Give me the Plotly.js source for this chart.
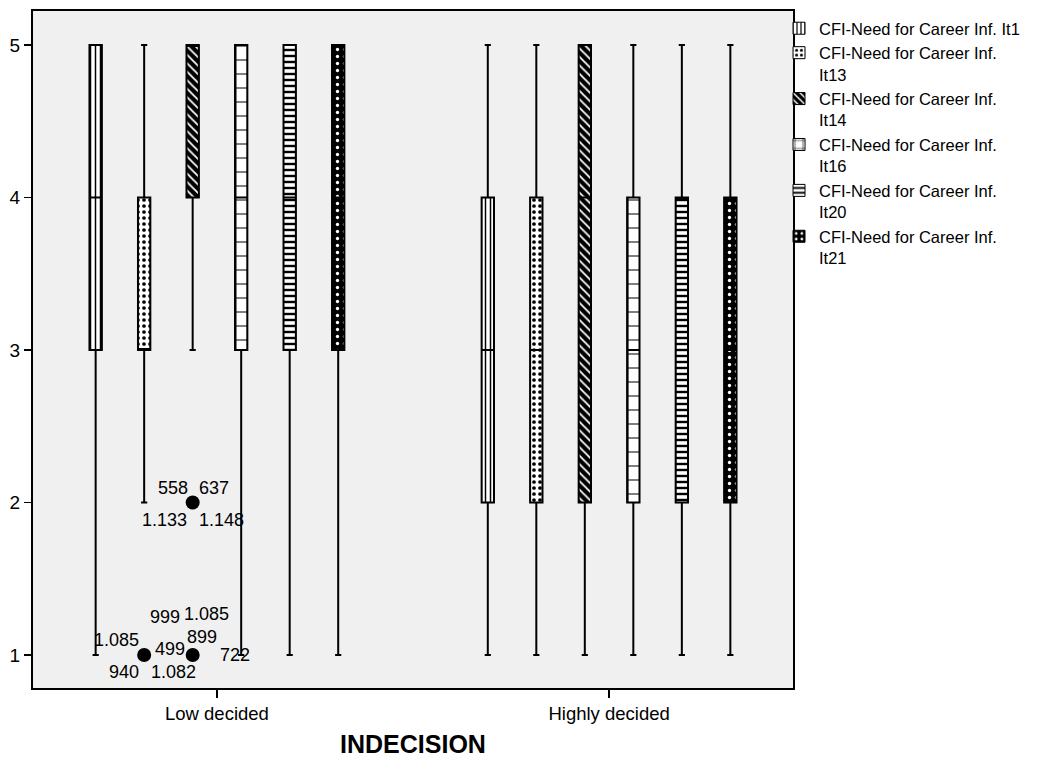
<!DOCTYPE html>
<html>
<head>
<meta charset="utf-8">
<script src="https://cdn.plot.ly/plotly-3.0.1.min.js"></script>
<style>
  html, body { margin: 0; padding: 0; background: #ffffff; }
  #chart { width: 1045px; height: 761px; }
</style>
</head>
<body>
<div id="chart"></div>
<script>
// Groups on the category axis
const groups = ['Low decided', 'Highly decided'];

// Item names (one box per item within each group)
const items = [
  'CFI-Need for Career Inf. It1',
  'CFI-Need for Career Inf.<br>It13',
  'CFI-Need for Career Inf.<br>It14',
  'CFI-Need for Career Inf.<br>It16',
  'CFI-Need for Career Inf.<br>It20',
  'CFI-Need for Career Inf.<br>It21'
];

// Box-plot statistics per item: [Low decided, Highly decided]
const lowerWhisker = [[1, 1], [2, 1], [3, 1], [1, 1], [1, 1], [1, 1]];
const q1           = [[3, 2], [3, 2], [4, 2], [3, 2], [3, 2], [3, 2]];
const median       = [[4, 3], [3, 3], [5, 4], [4, 3], [4, 4], [4, 3]];
const q3           = [[5, 4], [4, 4], [5, 5], [5, 4], [5, 4], [5, 4]];
const upperWhisker = [[5, 5], [5, 5], [5, 5], [5, 5], [5, 5], [5, 5]];

// Outlying cases: item index, group index, value, case labels
const outlierItem  = [1, 2, 2];
const outlierGroup = [0, 0, 0];
const outlierValue = [1, 2, 1];
const outlierCases = [
  ['1.085', '940'],
  ['558', '637', '1.133', '1.148'],
  ['999', '1.085', '899', '499', '1.082', '722']
];

// ---- styling -------------------------------------------------------------
const FONT = 'Liberation Sans, Arial, Helvetica, sans-serif';
const slot = 0.1237;      // spacing of boxes inside a group (axis units)
const boxWidth = 0.0315;  // box width (axis units)

// Fill patterns for each item
const patterns = [
  { shape: '|',  bgcolor: '#ffffff', fgcolor: '#000000', size: 5,  solidity: 0.3 },
  { shape: '.',  bgcolor: '#ffffff', fgcolor: '#000000', size: 6,  solidity: 0.3 },
  { shape: '\\', bgcolor: '#000000', fgcolor: '#ffffff', size: 6,  solidity: 0.3 },
  { shape: '+',  bgcolor: '#ffffff', fgcolor: '#000000', size: 14, solidity: 0.14 },
  { shape: '-',  bgcolor: '#ffffff', fgcolor: '#000000', size: 6,  solidity: 0.4 },
  { shape: '.',  bgcolor: '#000000', fgcolor: '#ffffff', size: 7,  solidity: 0.18 }
];

// Label placement around each outlier dot (pixel shifts: dx, dy up)
const labelShifts = [
  [[-28, 15], [-20, -17]],
  [[-20, 15], [21, 15], [-28, -17], [29, -17]],
  [[-28, 38], [14, 41], [9, 18], [-23, 6], [-19, -17], [42, 0]]
];

const offsetOf = i => (i - (items.length - 1) / 2) * slot;
const posOf = (i, g) => g + offsetOf(i);

const traces = [];

// Patterned box bodies (also provide the legend swatches)
items.forEach((name, i) => {
  traces.push({
    type: 'bar',
    name: name,
    x: groups.map((_, g) => posOf(i, g)),
    base: q1[i],
    y: q3[i].map((v, g) => v - q1[i][g]),
    width: boxWidth,
    marker: {
      color: patterns[i].bgcolor,
      line: { color: '#000000', width: 1 },
      pattern: {
        shape: patterns[i].shape,
        bgcolor: patterns[i].bgcolor,
        fgcolor: patterns[i].fgcolor,
        size: patterns[i].size,
        solidity: patterns[i].solidity
      }
    },
    hoverinfo: 'skip',
    showlegend: true
  });
});

// Box outlines, medians and whiskers
items.forEach((name, i) => {
  traces.push({
    type: 'box',
    name: name,
    x: groups.map((_, g) => posOf(i, g)),
    q1: q1[i],
    median: median[i],
    q3: q3[i],
    lowerfence: lowerWhisker[i],
    upperfence: upperWhisker[i],
    width: boxWidth,
    whiskerwidth: 0.5,
    boxpoints: false,
    fillcolor: 'rgba(0,0,0,0)',
    line: { color: '#000000', width: 2 },
    hoverinfo: 'skip',
    showlegend: false
  });
});

// Outlier dots
traces.push({
  type: 'scatter',
  mode: 'markers',
  x: outlierItem.map((it, k) => posOf(it, outlierGroup[k])),
  y: outlierValue,
  marker: { color: '#000000', size: 14, symbol: 'circle' },
  hoverinfo: 'skip',
  showlegend: false
});

// Case labels next to the outliers
const annotations = [];
outlierCases.forEach((labels, k) => {
  labels.forEach((txt, j) => {
    annotations.push({
      xref: 'x', yref: 'y',
      x: posOf(outlierItem[k], outlierGroup[k]),
      y: outlierValue[k],
      text: txt,
      showarrow: false,
      xshift: labelShifts[k][j][0],
      yshift: labelShifts[k][j][1],
      font: { family: FONT, size: 18, color: '#000000' }
    });
  });
});

const layout = {
  width: 1045,
  height: 761,
  margin: { l: 33, r: 252, t: 11, b: 73, pad: 0 },
  paper_bgcolor: '#ffffff',
  plot_bgcolor: '#f0f0f0',
  font: { family: FONT, size: 18, color: '#000000' },
  barmode: 'overlay',
  showlegend: true,
  legend: {
    x: 0.9816, xanchor: 'left',
    y: 1, yanchor: 'top',
    bgcolor: 'rgba(0,0,0,0)',
    borderwidth: 0,
    valign: 'top',
    traceorder: 'normal',
    font: { family: FONT, size: 16.5, color: '#000000' }
  },
  xaxis: {
    range: [-0.469, 1.469],
    tickmode: 'array',
    tickvals: groups.map((_, g) => g),
    ticktext: groups,
    ticks: 'outside',
    ticklen: 8,
    tickwidth: 1.5,
    tickcolor: '#000000',
    tickfont: { family: FONT, size: 18.5, color: '#000000' },
    showgrid: false,
    zeroline: false,
    showline: true,
    linecolor: '#000000',
    linewidth: 2,
    mirror: true,
    automargin: false,
    title: {
      text: 'INDECISION',
      standoff: 12,
      font: { family: FONT, size: 25, weight: 700, color: '#000000' }
    }
  },
  yaxis: {
    range: [0.784, 5.223],
    tickmode: 'array',
    tickvals: [1, 2, 3, 4, 5],
    ticks: 'outside',
    ticklen: 7,
    tickwidth: 1.5,
    tickcolor: '#000000',
    tickfont: { family: FONT, size: 19, color: '#000000' },
    showgrid: false,
    zeroline: false,
    showline: true,
    linecolor: '#000000',
    linewidth: 2,
    mirror: true,
    automargin: false
  },
  annotations: annotations
};

Plotly.newPlot('chart', traces, layout, { staticPlot: true, displayModeBar: false });
</script>
</body>
</html>
